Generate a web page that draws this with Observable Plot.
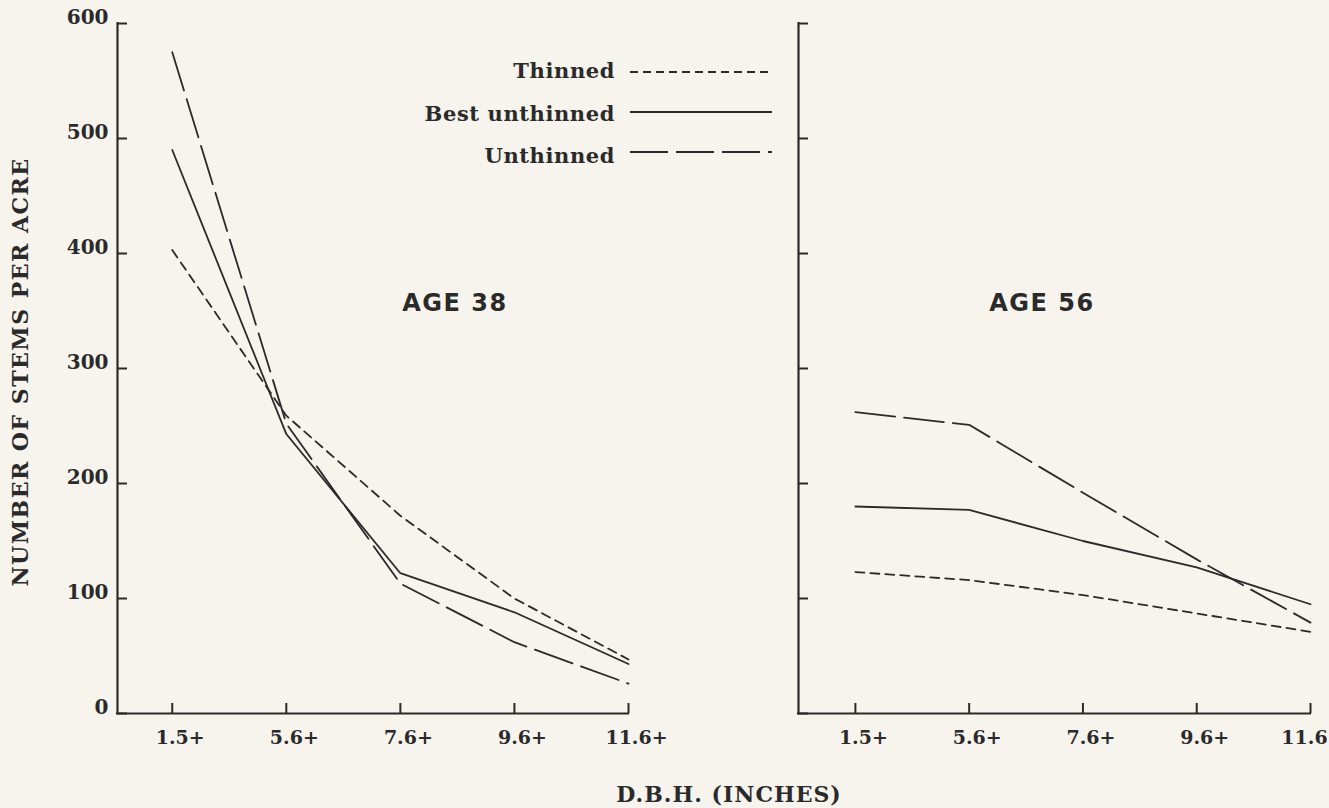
<!DOCTYPE html>
<html><head><meta charset="utf-8">
<script src="https://cdn.jsdelivr.net/npm/d3@7"></script>
<script src="https://cdn.jsdelivr.net/npm/@observablehq/plot@0.6"></script>
<style>
html,body{margin:0;padding:0;background:#f7f4ed;overflow:hidden;}
#wrap{position:relative;width:1329px;height:808px;color:#2a2a2a;}
.pan{position:absolute;top:0;}
.t{position:absolute;white-space:nowrap;line-height:1;}
.serif{font-family:"DejaVu Serif",serif;font-weight:bold;}
.sans{font-family:"DejaVu Sans",sans-serif;font-weight:bold;}
</style></head><body><div id="wrap"></div>
<script>
// ---- data ----
const dbhLabels = ["1.5+", "5.6+", "7.6+", "9.6+", "11.6+"];
// the right panel's last label is cut by the page edge in the original: only "11.6" shows
const dbhLabelsRight = ["1.5+", "5.6+", "7.6+", "9.6+", "11.6"];
const seriesNames = ["Thinned", "Best unthinned", "Unthinned"];
const panelTitles = ["AGE 38", "AGE 56"];
const yTicks = [0, 100, 200, 300, 400, 500, 600];
const age38Thinned   = [403, 259, 172, 100, 47];
const age38Best      = [490, 243, 122, 88, 43];
const age38Unthinned = [575, 252, 113, 62, 26];
const age56Thinned   = [123, 116, 103, 87, 71];
const age56Best      = [180, 177, 150, 127, 95];
const age56Unthinned = [262, 251, 192, 134, 79];
const xTitle = "D.B.H. (INCHES)";
const yTitle = "NUMBER OF STEMS PER ACRE";

// ---- styles ----
const ink = "#2a2a2a";
const dashes = {"Thinned": "9,6", "Best unthinned": null, "Unthinned": "40,9"};
const legendDashes = {"Thinned": "8,5", "Best unthinned": null, "Unthinned": "38,8"};

const wrap = document.getElementById("wrap");

function rowsOf(arrs) {
  const out = [];
  seriesNames.forEach((s, k) => arrs[k].forEach((v, i) => out.push({series: s, i, v})));
  return out;
}

function panel(arrs, labels, {left, width, marginLeft, marginRight, xMin, showY, lastDx}) {
  const data = rowsOf(arrs);
  const idx = d3.range(labels.length);
  const last = labels.length - 1;
  const marks = [
    Plot.ruleY([0], {stroke: ink, strokeWidth: 2.2, strokeLinecap: "square"}),
    Plot.ruleX([xMin], {stroke: ink, strokeWidth: 2.2, strokeLinecap: "square"}),
    Plot.axisY({ticks: yTicks, tickSize: -10, strokeWidth: 2, fill: "none", tickFormat: () => "", label: null}),
    Plot.axisX({ticks: idx, tickSize: -10, strokeWidth: 2, fill: "none", tickFormat: () => "", label: null}),
    Plot.axisX({ticks: idx.slice(0, last), tickSize: 0, tickPadding: 17, dx: 8, tickFormat: i => labels[i], label: null, fontSize: 19}),
    Plot.axisX({ticks: [last], tickSize: 0, tickPadding: 17, dx: lastDx, tickFormat: i => labels[i], label: null, fontSize: 19}),
    ...seriesNames.map(s => Plot.line(data.filter(d => d.series === s), {
      x: "i", y: "v", stroke: ink, strokeWidth: 1.8, strokeDasharray: dashes[s]
    }))
  ];
  if (showY) marks.push(Plot.axisY({ticks: yTicks, tickSize: 0, tickPadding: 9, dy: -6, label: null, fontSize: 20}));
  const p = Plot.plot({
    width, height: 760,
    marginLeft, marginRight, marginTop: 23, marginBottom: 47,
    x: {domain: [xMin, labels.length - 1]},
    y: {domain: [0, 600]},
    style: {background: "none", fontFamily: "DejaVu Serif, serif", fontWeight: "bold", color: ink, fontSize: "19px"},
    marks
  });
  p.classList.add("pan");
  p.style.left = left + "px";
  wrap.appendChild(p);
}

panel([age38Thinned, age38Best, age38Unthinned], dbhLabels, {left: 0, width: 680, marginLeft: 117, marginRight: 52, xMin: -0.48, showY: true, lastDx: 8});
panel([age56Thinned, age56Best, age56Unthinned], dbhLabelsRight, {left: 680, width: 649, marginLeft: 118, marginRight: 19, xMin: -0.5, showY: false, lastDx: -6});

function addText(txt, cls, x, y, css) {
  const d = document.createElement("div");
  d.className = "t " + cls;
  d.textContent = txt;
  Object.assign(d.style, {left: x + "px", top: y + "px"}, css || {});
  wrap.appendChild(d);
  return d;
}

// panel titles
addText(panelTitles[0], "sans", 455, 303, {transform: "translate(-50%,-50%)", fontSize: "24px", letterSpacing: "1.5px"});
addText(panelTitles[1], "sans", 1042, 303, {transform: "translate(-50%,-50%)", fontSize: "24px", letterSpacing: "1.5px"});
// axis titles
addText(xTitle, "serif", 729, 794, {transform: "translate(-50%,-50%)", fontSize: "22px", letterSpacing: "1px"});
addText(yTitle, "serif", 20, 372, {transform: "translate(-50%,-50%) rotate(-90deg)", fontSize: "22px", letterSpacing: "1.5px"});

// legend
const legTextY = [70, 113, 155];
const legLineY = [72, 112, 152];
seriesNames.forEach((s, k) => {
  addText(s, "serif", 615, legTextY[k], {transform: "translate(-100%,-50%)", fontSize: "21px", letterSpacing: "0.6px"});
});
const ns = "http://www.w3.org/2000/svg";
const lg = document.createElementNS(ns, "svg");
lg.setAttribute("width", 1329); lg.setAttribute("height", 808);
Object.assign(lg.style, {position: "absolute", left: "0px", top: "0px", pointerEvents: "none"});
seriesNames.forEach((s, k) => {
  const l = document.createElementNS(ns, "line");
  l.setAttribute("x1", 630); l.setAttribute("x2", 772);
  l.setAttribute("y1", legLineY[k]); l.setAttribute("y2", legLineY[k]);
  l.setAttribute("stroke", ink); l.setAttribute("stroke-width", 1.8);
  if (legendDashes[s]) l.setAttribute("stroke-dasharray", legendDashes[s]);
  lg.appendChild(l);
});
wrap.appendChild(lg);
</script></body></html>
